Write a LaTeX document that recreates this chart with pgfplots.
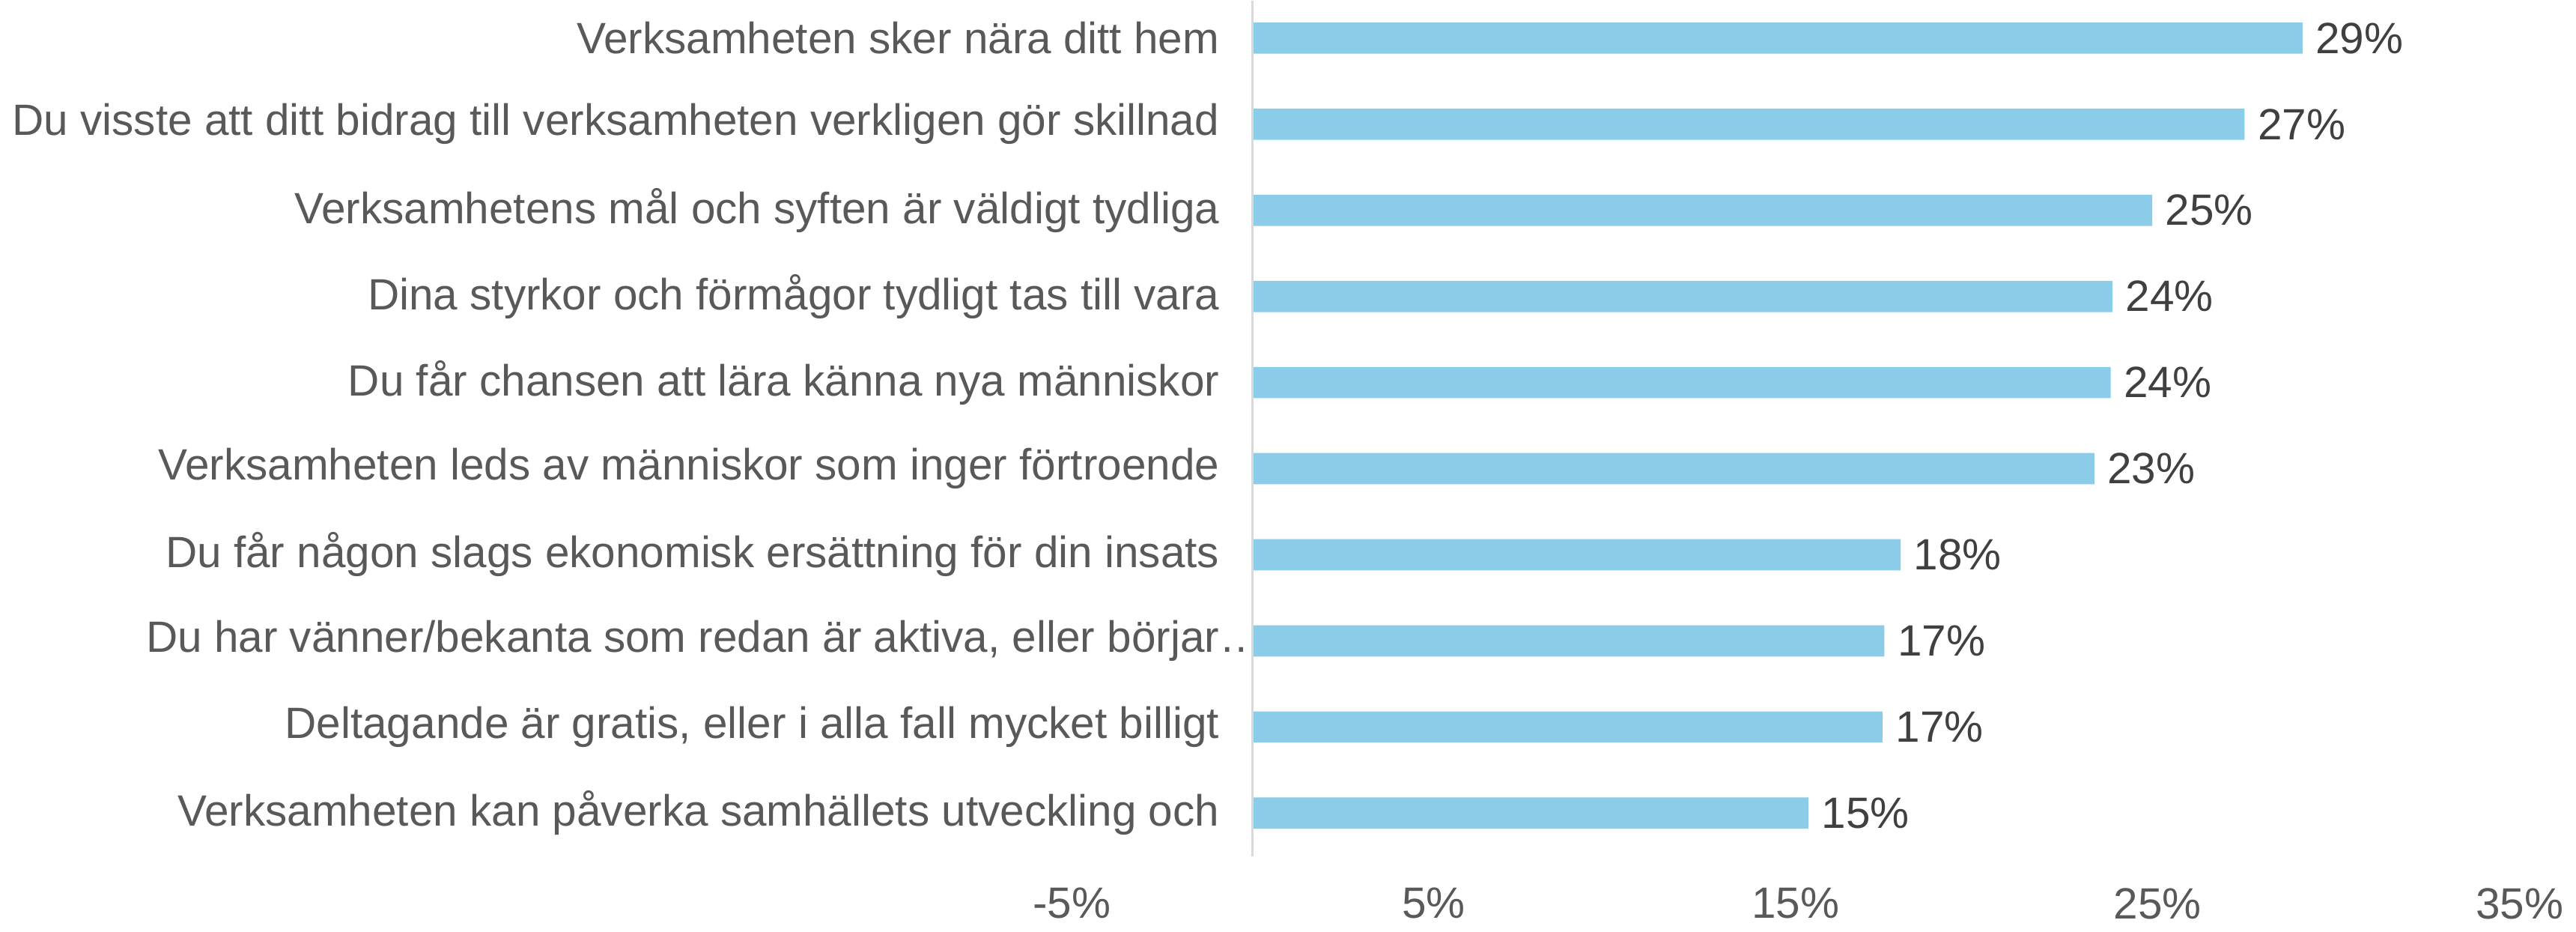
\documentclass[border=0pt]{standalone}
\usepackage{pgfplots}
\pgfplotsset{compat=1.18}
\usepackage{fontspec}
\setmainfont{Liberation Sans}
\definecolor{barblue}{HTML}{8BCDE8}
\definecolor{labgray}{HTML}{595959}
\definecolor{valgray}{HTML}{404040}
\definecolor{linegray}{HTML}{D9D9D9}
\newcommand{\chartfont}{\fontsize{11.7}{14}\selectfont}
\begin{document}
\begin{tikzpicture}
\begin{axis}[
  scale only axis,
  width=387pt, height=228.4pt,
  xmin=-5, xmax=35,
  ymin=-0.5, ymax=9.43,
  xbar, bar width=8.34pt,
  axis line style={draw=none},
  major tick length=0pt,
  /pgf/number format/assume math mode=true,
  xtick={-5,5,15,25,35},
  xticklabels={-5\%,5\%,15\%,25\%,35\%},
  ytick={0,...,9},
  yticklabels={
    Verksamheten kan påverka samhällets utveckling och,
    {Deltagande är gratis, eller i alla fall mycket billigt},
    {Du har vänner/bekanta som redan är aktiva, eller börjar\rlap{…}},
    Du får någon slags ekonomisk ersättning för din insats,
    Verksamheten leds av människor som inger förtroende,
    Du får chansen att lära känna nya människor,
    Dina styrkor och förmågor tydligt tas till vara,
    Verksamhetens mål och syften är väldigt tydliga,
    Du visste att ditt bidrag till verksamheten verkligen gör skillnad,
    Verksamheten sker nära ditt hem},
  yticklabel style={font=\chartfont, text=labgray, anchor=east, xshift=43pt},
  xticklabel style={font=\chartfont, text=labgray, yshift=-5pt},
  nodes near coords={\pgfmathprintnumber[fixed,precision=0,assume math mode=true]{\pgfplotspointmeta}\%},
  every node near coord/.append style={font=\chartfont, text=valgray, anchor=west},
  clip=false,
]
\addplot[fill=barblue, draw=none] coordinates {
  (15.35,0) (17.4,1) (17.45,2) (17.9,3) (23.25,4) (23.7,5) (23.75,6) (24.85,7) (27.4,8) (29.0,9)
};
\draw[linegray, line width=0.6pt] (axis cs:0,-0.5) -- (axis cs:0,9.43);
\end{axis}
\end{tikzpicture}
\end{document}
